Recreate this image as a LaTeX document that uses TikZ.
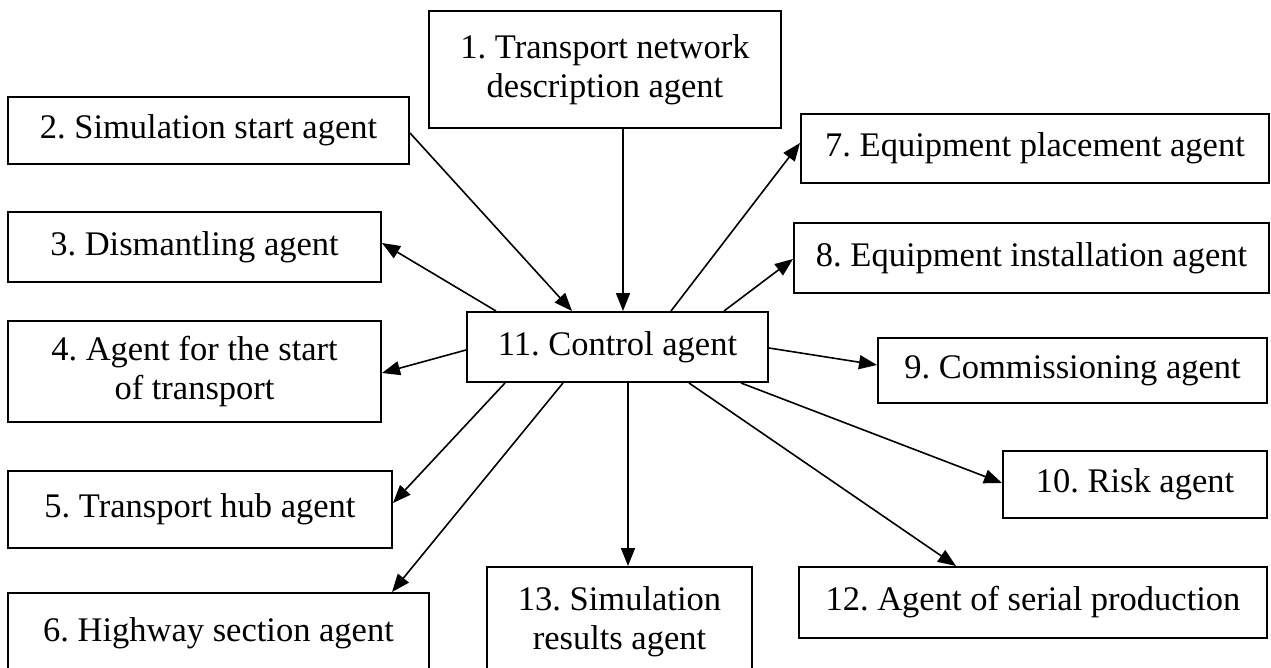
\documentclass[tikz,border=0pt]{standalone}
\usepackage{fontspec}
\setmainfont{Liberation Serif}
\usetikzlibrary{arrows.meta}
\frenchspacing
\begin{document}
\begin{tikzpicture}[x=1pt,y=-1pt,
  agentbox/.style={draw, line width=2pt, inner sep=0pt, align=center,
    font=\fontsize{34.5}{39}\selectfont},
  link/.style={line width=1.6pt, -{Triangle[length=18pt,width=14pt]}}]
\useasboundingbox (0,0) rectangle (1271,668);

% agent boxes
\node[agentbox, minimum width=352pt, minimum height=117pt] (n1) at (605,69.5) {1. Transport network\\description agent};
\node[agentbox, minimum width=401pt, minimum height=67pt] (n2) at (208.5,130.5) {2. Simulation start agent};
\node[agentbox, minimum width=373pt, minimum height=70pt] (n3) at (194.5,247) {3. Dismantling agent};
\node[agentbox, minimum width=373pt, minimum height=101pt] (n4) at (194.5,371.5) {4. Agent for the start\\of transport};
\node[agentbox, minimum width=384pt, minimum height=77pt] (n5) at (200,509.5) {5. Transport hub agent};
\node[agentbox, minimum width=421pt, minimum height=80pt] (n6) at (218.5,633) {6. Highway section agent};
\node[agentbox, minimum width=468pt, minimum height=69pt] (n7) at (1035,148.5) {7. Equipment placement agent};
\node[agentbox, minimum width=475pt, minimum height=70pt] (n8) at (1031.5,258) {8. Equipment installation agent};
\node[agentbox, minimum width=389pt, minimum height=65pt] (n9) at (1072.5,370.5) {9. Commissioning agent};
\node[agentbox, minimum width=264pt, minimum height=67pt] (n10) at (1135,484.5) {10. Risk agent};
\node[agentbox, minimum width=301pt, minimum height=70pt] (n11) at (617.5,347) {11. Control agent};
\node[agentbox, minimum width=468pt, minimum height=71pt] (n12) at (1033,602.5) {12. Agent of serial production};
\node[agentbox, minimum width=265pt, minimum height=110pt] (n13) at (619.5,622) {13. Simulation\\results agent};

% incoming links
\draw[link] ([xshift=18pt]n1.south) -- ([xshift=18pt]n1.south |- n11.north);
\draw[link] ([yshift=-2.5pt]n2.east) -- ([xshift=106pt]n11.north west);

% outgoing links
\draw[link] ([xshift=30pt]n11.north west) -- ([yshift=4pt]n3.east);
\draw[link] ([yshift=-3pt]n11.west) -- ([yshift=-1.5pt]n4.east);
\draw[link] ([xshift=39pt]n11.south west) -- ([yshift=6.5pt]n5.east);
\draw[link] ([xshift=97pt]n11.south west) -- ([xshift=385pt]n6.north west);
\draw[link] ([xshift=8.5pt]n13.north |- n11.south) -- ([xshift=8.5pt]n13.north);
\draw[link] ([xshift=223pt]n11.south west) -- ([xshift=158pt]n12.north west);
\draw[link] ([xshift=-28pt]n11.south east) -- ([yshift=1.5pt]n10.west);
\draw[link] ([yshift=-1pt]n11.east) -- ([yshift=5.5pt]n9.west);
\draw[link] ([xshift=-45pt]n11.north east) -- ([yshift=-1pt]n8.west);
\draw[link] ([xshift=205pt]n11.north west) -- ([yshift=5.5pt]n7.west);
\end{tikzpicture}
\end{document}
